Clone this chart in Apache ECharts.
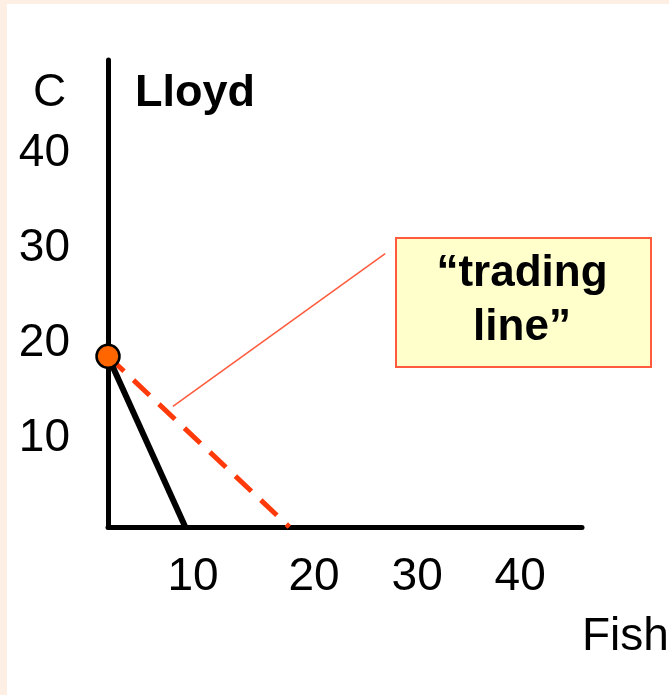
<!DOCTYPE html>
<html>
<head>
<meta charset="utf-8">
<script src="https://cdn.jsdelivr.net/npm/echarts@6/dist/echarts.min.js"></script>
<style>
  html, body { margin: 0; padding: 0; background: #FDEFE3; }
  #bg { position: absolute; left: 7px; top: 4px; width: 662px; height: 691px; background: #ffffff; }
  #chart { position: absolute; left: 0; top: 0; width: 669px; height: 695px; }
</style>
</head>
<body>
<div id="bg"></div>
<div id="chart"></div>
<script>
// Data
const xTickLabels = [10, 20, 30, 40];
const yTickLabels = [10, 20, 30, 40];
const ppfLine = [[0, 18], [7.5, 0]];          // Lloyd's production possibility line
const tradingLine = [[0, 18], [17.6, 0]];     // "trading line"
const startPoint = [[0, 18]];
const calloutLeader = [[6.3, 12.7], [26.9, 28.8]];
const xName = 'Fish';
const yName = 'C';
const titleText = 'Lloyd';
const calloutText = '\u201Ctrading\nline\u201D';

const FONT = '"Liberation Sans", Arial, sans-serif';

const chart = echarts.init(document.getElementById('chart'), null, { renderer: 'canvas' });

const option = {
  backgroundColor: 'transparent',
  animation: false,
  grid: { left: 108, top: 60, width: 474, height: 467, containLabel: false },
  xAxis: {
    type: 'value', min: 0, max: 46, interval: 10,
    axisLine: { onZero: false, lineStyle: { color: '#000', width: 5 } },
    axisTick: { show: false },
    splitLine: { show: false },
    axisLabel: {
      margin: 27, fontFamily: FONT, fontSize: 46, color: '#000',
      formatter: v => {
        if (!xTickLabels.includes(v)) return '';
        return v === 10 ? '{first|' + v + '}' : String(v);
      },
      rich: {
        first: { fontFamily: FONT, fontSize: 46, color: '#000', padding: [0, 36, 0, 0] }
      }
    }
  },
  yAxis: {
    type: 'value', min: 0, max: 49.2, interval: 10,
    axisLine: { show: true, onZero: false, lineStyle: { color: '#000', width: 5 } },
    axisTick: { show: false },
    splitLine: { show: false },
    axisLabel: {
      margin: 38, fontFamily: FONT, fontSize: 46, color: '#000',
      formatter: v => (yTickLabels.includes(v) ? '{y|' + v + '}' : ''),
      rich: {
        y: { fontFamily: FONT, fontSize: 46, color: '#000', padding: [12, 0, 0, 0] }
      }
    }
  },
  series: [
    {
      type: 'line', data: calloutLeader, symbol: 'none', z: 1,
      lineStyle: { color: '#FF5A3C', width: 1.5 }
    },
    {
      type: 'line', data: tradingLine, symbol: 'none', z: 2,
      lineStyle: { color: '#FF3A0A', width: 5, type: [22, 13] }
    },
    {
      type: 'line', data: ppfLine, symbol: 'none', z: 3,
      lineStyle: { color: '#000', width: 6 }
    },
    {
      type: 'scatter', data: startPoint, symbol: 'circle', symbolSize: 23, z: 4,
      itemStyle: { color: '#FF6600', borderColor: '#000', borderWidth: 2.5, opacity: 1 }
    }
  ],
  graphic: [
    { type: 'text', left: 33, top: 70, style: { text: yName, font: '46px ' + FONT, fill: '#000' } },
    { type: 'text', left: 135, top: 71, style: { text: titleText, font: 'bold 45px ' + FONT, fill: '#000' } },
    { type: 'text', left: 582, top: 614, style: { text: xName, font: '46px ' + FONT, fill: '#000' } },
    {
      type: 'rect', left: 395, top: 237, z: 10,
      shape: { width: 255, height: 129 },
      style: { fill: '#FFFFCC', stroke: '#FF5A3C', lineWidth: 2 }
    },
    {
      type: 'text', x: 522, y: 301, z: 11,
      style: {
        text: calloutText, font: 'bold 44px ' + FONT, fill: '#000',
        align: 'center', verticalAlign: 'middle', lineHeight: 54
      }
    }
  ]
};
chart.setOption(option);
</script>
</body>
</html>
